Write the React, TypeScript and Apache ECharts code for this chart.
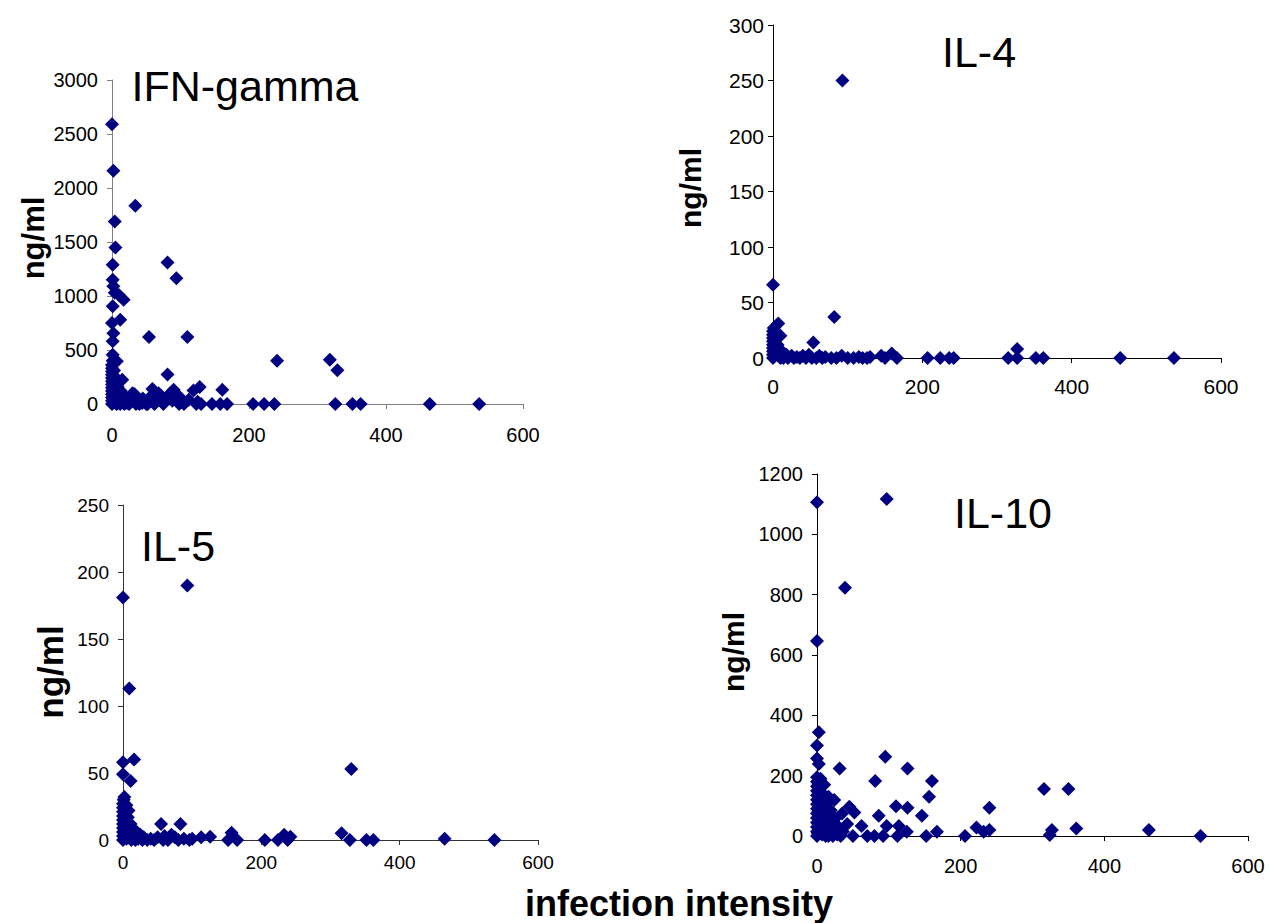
import React, { useEffect, useRef } from "react";
import * as echarts from "echarts";

// ---- data ----
const xTicks = [0, 200, 400, 600];

const ifnGamma: [number, number][] = [
  [0, 2590], [2, 2160], [34, 1835], [4, 1690], [5, 1450], [1, 1290], [81, 1310], [94, 1165],
  [1, 1150], [2, 1090], [4, 1030], [10, 1010], [17, 965], [1, 905], [12, 780], [0, 750],
  [2, 655], [1, 580], [54, 620], [110, 620], [1, 455], [7, 395], [241, 400], [318, 410],
  [329, 312], [81, 272], [15, 225], [30, 100], [59, 140], [68, 100], [128, 158], [119, 126],
  [161, 133], [90, 132], [98, 70], [98, 0], [123, 0], [146, 0], [158, 0], [168, 0],
  [206, 0], [222, 0], [237, 0], [326, 0], [351, 0], [363, 0], [464, 0], [536, 0],
  [0, 0], [0, 30], [0, 60], [0, 90], [0, 120], [0, 150], [0, 180], [0, 210], [0, 240],
  [0, 270], [0, 300], [0, 330], [0, 360], [1, 400], [2, 20], [2, 50], [2, 140], [2, 200],
  [3, 260], [3, 310], [4, 80], [4, 170], [5, 10], [5, 120], [6, 40], [6, 220], [7, 0],
  [8, 90], [8, 160], [9, 30], [10, 200], [11, 60], [12, 0], [13, 120], [14, 20], [16, 80],
  [18, 0], [20, 40], [22, 10], [25, 0], [27, 60], [33, 90], [36, 20], [40, 0], [44, 10],
  [48, 30], [50, 0], [55, 60], [60, 20], [62, 80], [66, 50], [72, 70], [76, 40], [85, 100],
  [88, 30], [102, 20], [112, 40], [125, 20], [105, 0], [130, 0], [75, 0], [62, 0], [35, 0],
  [45, 50], [52, 0], [58, 40],
];

const il4: [number, number][] = [
  [0, 66], [93, 250], [82, 37], [54, 14], [7, 31], [10, 20], [327, 8], [315, 0], [327, 0],
  [352, 0], [362, 0], [465, 0], [537, 0], [207, 0], [224, 0], [236, 0], [242, 0], [145, 2],
  [150, 0], [159, 4], [166, 0],
  [0, 0], [0, 3], [0, 6], [0, 9], [0, 12], [0, 15], [0, 18], [0, 21], [0, 24], [1, 27],
  [2, 2], [2, 10], [3, 16], [4, 22], [5, 5], [6, 12], [8, 3], [9, 8], [10, 0], [12, 2],
  [14, 0], [18, 3], [20, 0], [25, 2], [28, 0], [32, 1], [36, 0], [40, 2], [44, 0], [48, 3],
  [52, 0], [58, 0], [62, 2], [66, 0], [70, 1], [78, 0], [85, 0], [92, 2], [100, 0], [108, 0],
  [115, 1], [120, 0], [126, 0], [130, 1],
];

const il5: [number, number][] = [
  [0, 181], [93, 190], [9, 113], [0, 58], [16, 60], [0, 49], [11, 44], [330, 53], [55, 12],
  [83, 12], [316, 5], [465, 1], [537, 0], [233, 4], [242, 2.5], [157, 5.5], [126, 2.5],
  [113, 2], [205, 0], [224, 0], [238, 0], [152, 0], [165, 0], [328, 0], [352, 0], [362, 0],
  [96, 0], [100, 1], [70, 4], [65, 0],
  [0, 0], [0, 3], [0, 6], [0, 9], [0, 12], [0, 15], [0, 18], [0, 21], [0, 24], [0, 27],
  [1, 30], [2, 32], [2, 4], [3, 10], [3, 20], [4, 14], [5, 1], [5, 26], [6, 7], [7, 17],
  [8, 2], [8, 22], [10, 5], [11, 12], [12, 0], [14, 8], [16, 3], [18, 0], [20, 6], [22, 1],
  [25, 4], [28, 0], [30, 2], [35, 0], [40, 1], [45, 0], [50, 2], [58, 0], [60, 3], [75, 2],
  [80, 0], [88, 1],
];

const il10: [number, number][] = [
  [0, 1106], [97, 1117], [39, 823], [0, 646], [2.5, 344], [0, 300], [0, 257], [2.5, 239],
  [31.5, 224], [95, 263], [126, 224], [81, 182], [160, 182], [156, 130], [316, 156], [350, 156],
  [240, 94], [110, 99], [126, 94], [24, 119], [45, 97], [52, 78], [35, 75], [86, 67],
  [146, 67], [42, 40], [62, 33], [97, 33], [114, 33], [125, 14], [167, 14], [222, 28],
  [232, 14], [240, 20], [327, 20], [324, 3], [361, 25], [462, 20], [534, 0], [206, 0],
  [152, 0], [112, 0], [92, 0], [80, 0], [70, 0], [50, 0],
  [0, 0], [0, 15], [0, 30], [0, 45], [0, 60], [0, 75], [0, 90], [0, 105], [0, 120], [0, 135],
  [0, 150], [0, 165], [0, 180], [0, 195], [1, 10], [2, 40], [2, 80], [3, 125], [3, 160],
  [4, 20], [5, 60], [5, 190], [6, 100], [7, 5], [8, 140], [9, 35], [10, 170], [11, 70],
  [12, 0], [13, 110], [14, 25], [15, 50], [16, 130], [18, 10], [19, 85], [20, 40], [22, 0],
  [24, 20], [26, 60], [28, 5], [30, 30], [33, 0], [36, 15], [16, 0],
];

const panelTitles = ["IFN-gamma", "IL-4", "IL-5", "IL-10"];
const yMax = [3000, 300, 250, 1200];
const yStep = [500, 50, 50, 200];
const yAxisTitle = "ng/ml";
const xAxisTitle = "infection intensity";

const FONT = "'Liberation Sans', Arial, Helvetica, sans-serif";

export default function App() {
  const ref = useRef<HTMLDivElement>(null);
  useEffect(() => {
    if (!ref.current) return;
    const chart = echarts.init(ref.current, null, { renderer: "svg" });

    const layouts = [
      { left: 112, top: 80, width: 411, height: 324, axisColor: "#808080", font: 20, xm: 21, ym: 14 },
      { left: 773, top: 25, width: 448, height: 333, axisColor: "#000000", font: 21, xm: 18, ym: 9 },
      { left: 123, top: 505, width: 415, height: 335, axisColor: "#333333", font: 19, xm: 13, ym: 14 },
      { left: 817, top: 474, width: 431, height: 362, axisColor: "#000000", font: 20, xm: 20, ym: 14 },
    ];
    const datasets = [ifnGamma, il4, il5, il10];
    const plain = (v: number) => String(v);

    const grid = layouts.map((l) => ({ left: l.left, top: l.top, width: l.width, height: l.height, containLabel: false }));
    const xAxis = layouts.map((l, i) => ({
      type: "value",
      gridIndex: i,
      min: xTicks[0],
      max: xTicks[xTicks.length - 1],
      interval: xTicks[1] - xTicks[0],
      splitLine: { show: false },
      axisLine: { show: true, lineStyle: { color: l.axisColor, width: 1 } },
      axisTick: { show: true, inside: false, length: 5, lineStyle: { color: l.axisColor } },
      axisLabel: { color: "#000", fontSize: l.font, fontFamily: FONT, margin: l.xm, formatter: plain },
    }));
    const yAxis = layouts.map((l, i) => ({
      type: "value",
      gridIndex: i,
      min: 0,
      max: yMax[i],
      interval: yStep[i],
      splitLine: { show: false },
      axisLine: { show: true, onZero: false, lineStyle: { color: l.axisColor, width: 1 } },
      axisTick: { show: true, inside: false, length: 5, lineStyle: { color: l.axisColor } },
      axisLabel: { color: "#000", fontSize: l.font, fontFamily: FONT, margin: l.ym, formatter: plain },
    }));
    const series = datasets.map((d, i) => ({
      type: "scatter",
      xAxisIndex: i,
      yAxisIndex: i,
      data: d,
      symbol: "diamond",
      symbolSize: 14,
      itemStyle: { color: "#000080", opacity: 1 },
      clip: false,
    }));

    const titlePos = [
      { x: 245, y: 86 },
      { x: 979, y: 52 },
      { x: 178, y: 546 },
      { x: 1003, y: 513 },
    ];
    const yTitlePos = [
      { x: 33, y: 238, size: 31 },
      { x: 690, y: 188, size: 30 },
      { x: 50, y: 672, size: 35 },
      { x: 733, y: 652, size: 30 },
    ];

    const graphic: any[] = [];
    panelTitles.forEach((t, i) => {
      graphic.push({
        type: "text",
        x: titlePos[i].x,
        y: titlePos[i].y,
        style: {
          text: t,
          fontSize: 43,
          fontFamily: FONT,
          fill: "#000",
          textAlign: "center",
          textVerticalAlign: "middle",
        },
      });
      graphic.push({
        type: "text",
        x: yTitlePos[i].x,
        y: yTitlePos[i].y,
        rotation: Math.PI / 2,
        style: {
          text: yAxisTitle,
          fontSize: yTitlePos[i].size,
          fontWeight: "bold",
          fontFamily: FONT,
          fill: "#000",
          textAlign: "center",
          textVerticalAlign: "middle",
        },
      });
    });
    graphic.push({
      type: "text",
      x: 679,
      y: 903,
      style: {
        text: xAxisTitle,
        fontSize: 36,
        fontWeight: "bold",
        fontFamily: FONT,
        fill: "#000",
        textAlign: "center",
        textVerticalAlign: "middle",
      },
    });

    chart.setOption({
      animation: false,
      backgroundColor: "#ffffff",
      grid,
      xAxis,
      yAxis,
      series,
      graphic,
    });
    return () => chart.dispose();
  }, []);

  return (
    <div
      ref={ref}
      style={{ position: "absolute", left: 0, top: 0, width: 1269, height: 923 }}
    />
  );
}
